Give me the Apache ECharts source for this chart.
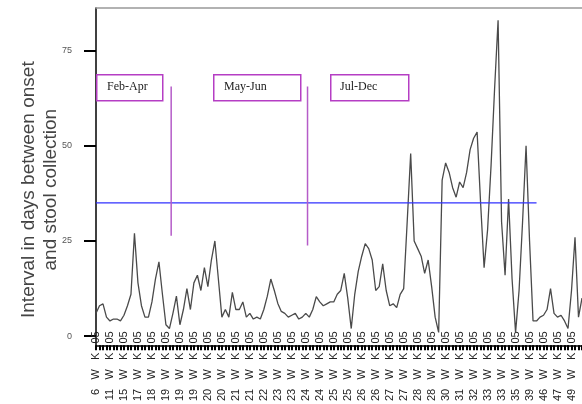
<!DOCTYPE html>
<html><head><meta charset="utf-8">
<script src="https://cdn.jsdelivr.net/npm/echarts@6/dist/echarts.min.js"></script>
<style>html,body{margin:0;padding:0;background:#fff}#c{width:582px;height:404px}</style>
</head><body><div id="c"></div>
<script>
// week labels shown every 4th category
const weekLabels = ['6','11','15','17','18','19','19','19','20','20','21','21','22','23','23','24','24','25','25','26','26','27','27','28','28','30','31','32','33','33','35','39','46','47','49'];
const labelStep = 4;
// interval in days between onset and stool collection
const intervalDays = [6,8,8.5,5,4,4.5,4.5,4,5.5,8,11,27,14,8,5,5,9,15,19.5,11,
3,2,6,10.5,3,7,12.5,7,14,16,12,18,13,20,25,15,5,7,5,11.5,
7,7,9,5,6,4.5,5,4.5,7,10.5,15,12,8.6,6.5,6,5,5.5,6,4.5,5,
6,5,7,10.4,9,8,8.5,9,9,11,12,16.5,10,2,11,17,21,24.3,23,20,
12,13,19,12,8,8.5,7.5,11,12.5,30,48,25,23,21,16.5,20,13,5,1,41,
45.5,43,39,36.5,40.5,39,43,49,52,53.6,35,18,28,45,65,83,30,16,36,15,
1,12,30,50,25,4,4,5,5.5,7,12.5,6,5,5.5,4,2,12,26,5,10];
const refLevel = 35;          // horizontal reference line
const refEndIndex = 126;      // where reference line stops
const periodBreaks = [21.5, 60.5]; // vertical separators (category index)
const breakTop = 65.6;
const breakBottoms = [26.4, 23.8];
const yTicks = [0, 25, 50, 75];

const categories = intervalDays.map((v, i) => {
  if (i % labelStep === 0 && weekLabels[i / labelStep] !== undefined) {
    return weekLabels[i / labelStep] + '   W   K   05';
  }
  return ' ' + i;
});

const chart = echarts.init(document.getElementById('c'), null, {renderer: 'canvas'});
const boxStyle = {fill: '#fff', stroke: '#b53ec4', lineWidth: 1.5};
const boxText = {fill: '#222', font: '12px "Liberation Serif", "DejaVu Serif", serif'};
chart.setOption({
  animation: false,
  grid: {left: 96, right: 0, top: 8, bottom: 57},
  xAxis: [{
    type: 'category', data: categories, boundaryGap: false,
    axisLine: {onZero: false, lineStyle: {color: '#000', width: 1.5}},
    axisTick: {interval: 0, length: 5, lineStyle: {color: '#000', width: 2}},
    axisLabel: {interval: labelStep - 1, rotate: 90, margin: -14, hideOverlap: false,
      color: '#222', fontSize: 11, fontFamily: 'Liberation Sans, Arial, sans-serif',
      formatter: v => v.charAt(0) === ' ' ? '' : v}
  }, {
    type: 'value', min: 0, max: intervalDays.length - 1, position: 'top',
    axisLine: {show: true, onZero: false, lineStyle: {color: '#999', width: 1.5}},
    axisTick: {show: false}, axisLabel: {show: false}, splitLine: {show: false}
  }],
  yAxis: {
    type: 'value', min: -2.4, max: 86.2,
    name: 'Interval in days between onset\nand stool collection',
    nameLocation: 'middle', nameRotate: 90, nameGap: 34, nameMoveOverlap: false,
    nameTextStyle: {fontSize: 19, lineHeight: 22, color: '#444', padding: [0, 26, 0, 0],
      fontFamily: 'Liberation Sans, Arial, sans-serif'},
    axisLine: {show: true, onZero: false, lineStyle: {color: '#000', width: 1.5}},
    axisTick: {show: true, length: 12, customValues: yTicks, lineStyle: {color: '#000', width: 2}},
    axisLabel: {customValues: yTicks, margin: 24, fontSize: 9, color: '#555', fontFamily: 'Liberation Sans, Arial, sans-serif'},
    splitLine: {show: false}
  },
  series: [{
    type: 'line', data: intervalDays, symbol: 'none',
    lineStyle: {color: '#4a4a4a', width: 1.3}
  }, {
    type: 'line', xAxisIndex: 1, symbol: 'none',
    data: [[0, refLevel], [refEndIndex, refLevel]],
    lineStyle: {color: '#3030ff', width: 1.3}, z: 3
  }, {
    type: 'line', xAxisIndex: 1, symbol: 'none',
    data: [[periodBreaks[0], breakTop], [periodBreaks[0], breakBottoms[0]]],
    lineStyle: {color: '#b55cc8', width: 1.5}
  }, {
    type: 'line', xAxisIndex: 1, symbol: 'none',
    data: [[periodBreaks[1], breakTop], [periodBreaks[1], breakBottoms[1]]],
    lineStyle: {color: '#b55cc8', width: 1.5}
  }],
  graphic: [
    {type: 'rect', left: 96, top: 74, shape: {width: 66, height: 26}, style: boxStyle, z: 10},
    {type: 'text', left: 107, top: 81, style: Object.assign({text: 'Feb-Apr'}, boxText), z: 11},
    {type: 'rect', left: 213, top: 74, shape: {width: 87, height: 26}, style: boxStyle, z: 10},
    {type: 'text', left: 224, top: 81, style: Object.assign({text: 'May-Jun'}, boxText), z: 11},
    {type: 'rect', left: 330, top: 74, shape: {width: 78, height: 26}, style: boxStyle, z: 10},
    {type: 'text', left: 340, top: 81, style: Object.assign({text: 'Jul-Dec'}, boxText), z: 11}
  ]
});
</script></body></html>
